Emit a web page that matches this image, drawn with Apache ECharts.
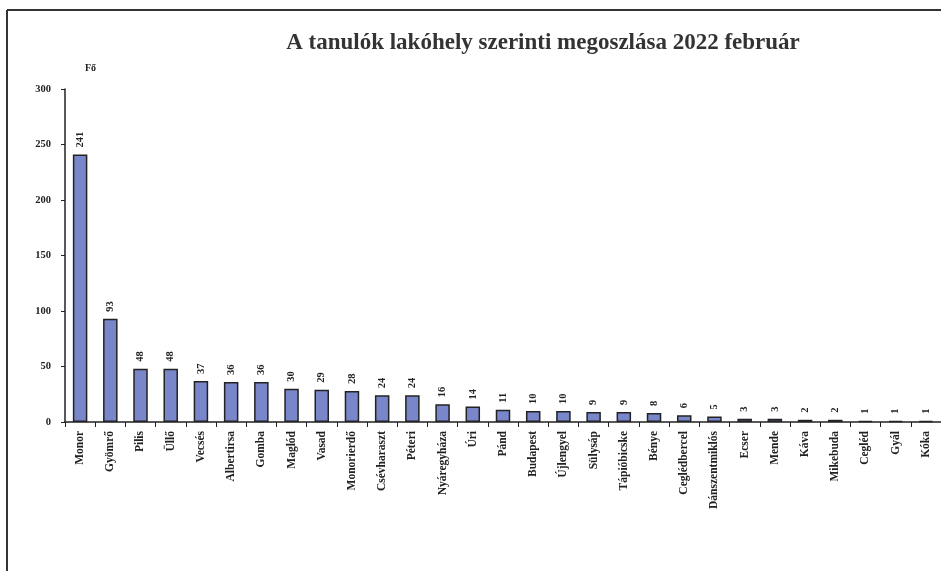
<!DOCTYPE html>
<html>
<head>
<meta charset="utf-8">
<script src="https://cdn.jsdelivr.net/npm/echarts@6/dist/echarts.min.js"></script>
<style>html,body{margin:0;padding:0;background:#fff}#c{width:941px;height:571px}</style>
</head>
<body>
<div id="c"></div>
<script>
const titleText = 'A tanulók lakóhely szerinti megoszlása 2022 február';
const unitLabel = 'Fő';
const categories = ['Monor','Gyömrő','Pilis','Üllő','Vecsés','Albertirsa','Gomba','Maglód','Vasad','Monorierdő','Csévharaszt','Péteri','Nyáregyháza','Úri','Pánd','Budapest','Újlengyel','Sülysáp','Tápióbicske','Bénye','Ceglédbercel','Dánszentmiklós','Ecser','Mende','Káva','Mikebuda','Cegléd','Gyál','Kóka'];
const values = [241,93,48,48,37,36,36,30,29,28,24,24,16,14,11,10,10,9,9,8,6,5,3,3,2,2,1,1,1];
const yTicks = [0,50,100,150,200,250,300];

const font = '"Liberation Serif", "DejaVu Serif", serif';
const chart = echarts.init(document.getElementById('c'));
chart.setOption({
  animation: false,
  backgroundColor: '#fff',
  title: {
    text: titleText, left: 538, top: 27, textAlign: 'center',
    textStyle: {fontFamily: font, fontSize: 23, fontWeight: 'bold', color: '#333'}
  },
  graphic: [
    {type: 'line', shape: {x1: 7, y1: 10, x2: 941, y2: 10}, style: {stroke: '#333', lineWidth: 2}},
    {type: 'line', shape: {x1: 7, y1: 10, x2: 7, y2: 571}, style: {stroke: '#333', lineWidth: 2}},
    {type: 'text', left: 85, top: 63, style: {text: unitLabel, font: 'bold 10px ' + font, fill: '#222'}}
  ],
  grid: {left: 65, right: 0, top: 89, bottom: 149},
  xAxis: {
    type: 'category', data: categories,
    axisLine: {lineStyle: {color: '#222', width: 1.5}},
    axisTick: {show: true, alignWithLabel: false, length: 5, lineStyle: {color: '#222'}},
    axisLabel: {rotate: 90, interval: 0, fontFamily: font, fontSize: 11.5, fontWeight: 'bold', color: '#222', margin: 9}
  },
  yAxis: {
    type: 'value', min: 0, max: 300, interval: 50,
    splitLine: {show: false},
    axisLine: {show: true, lineStyle: {color: '#222', width: 1.5}},
    axisTick: {show: true, length: 4, lineStyle: {color: '#222'}},
    axisLabel: {fontFamily: font, fontSize: 10.5, fontWeight: 'bold', color: '#222', margin: 14,
      formatter: v => yTicks.includes(v) ? String(v) : ''}
  },
  series: [{
    type: 'bar', data: values, barWidth: '48%',
    itemStyle: {color: '#7986ca', borderColor: '#222', borderWidth: 1.5},
    label: {show: true, position: 'top', rotate: 90, align: 'left', verticalAlign: 'middle', distance: 7,
      fontFamily: font, fontSize: 10.5, fontWeight: 'bold', color: '#222'}
  }]
});
</script>
</body>
</html>
